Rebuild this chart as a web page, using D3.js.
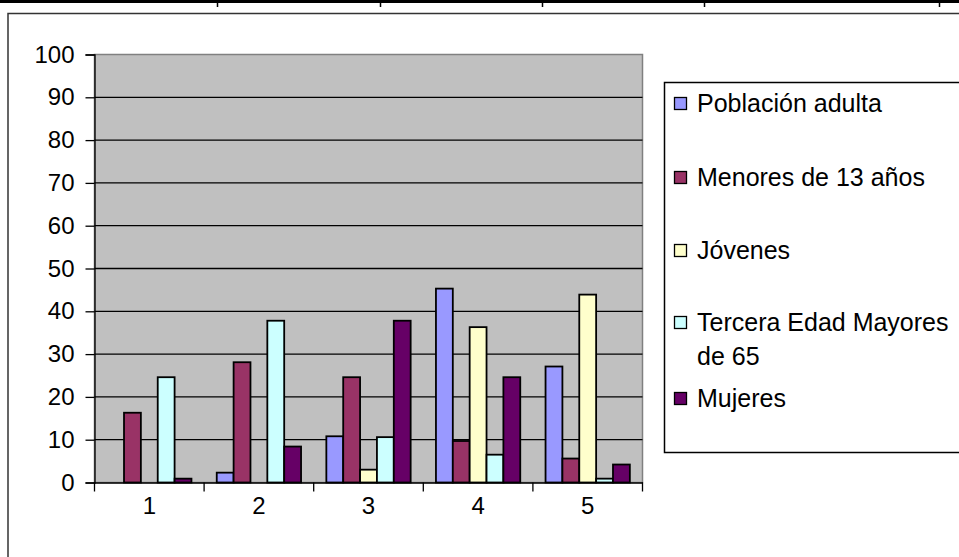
<!DOCTYPE html>
<html>
<head>
<meta charset="utf-8">
<title>Grupos de población</title>
<style>
  body { margin: 0; background: #fff; }
  svg { display: block; font-family: "Liberation Sans", Arial, sans-serif; }
</style>
</head>
<body>
<div class="chart"></div>
<script src="https://d3js.org/d3.v7.min.js"></script>
<script>
var categories = ["1", "2", "3", "4", "5"];
var seriesNames = ["Población adulta", "Menores de 13 años", "Jóvenes", "Tercera Edad Mayores de 65", "Mujeres"];
var legendLines = [["Población adulta"], ["Menores de 13 años"], ["Jóvenes"], ["Tercera Edad Mayores", "de 65"], ["Mujeres"]];
var poblacionAdulta = [0, 2.3, 10.8, 45.3, 27.1];
var menores13 = [16.3, 28.1, 24.6, 9.7, 5.6];
var jovenes = [0, 0, 3.0, 36.3, 43.9];
var terceraEdad = [24.6, 37.8, 10.6, 6.5, 0.9];
var mujeres = [0.9, 8.4, 37.8, 24.6, 4.2];
var yTicks = [0, 10, 20, 30, 40, 50, 60, 70, 80, 90, 100];
var colors = ["#9999ff", "#993366", "#ffffcc", "#ccffff", "#660066"];

var seriesValues = [poblacionAdulta, menores13, jovenes, terceraEdad, mujeres];

var W = 959, H = 557;
var plot = {left: 94.5, right: 642.5, top: 54.5, bottom: 482.5};

var svg = d3.select(".chart").append("svg")
  .attr("width", W)
  .attr("height", H);

// spreadsheet cell borders at the top
svg.append("line")
  .attr("x1", 0).attr("x2", W).attr("y1", 1.5).attr("y2", 1.5)
  .attr("stroke", "#000").attr("stroke-width", 3);
[217, 380, 542, 704, 939].forEach(function(x){
  svg.append("line")
    .attr("x1", x + 0.5).attr("x2", x + 0.5).attr("y1", 0).attr("y2", 7)
    .attr("stroke", "#000").attr("stroke-width", 1.5);
});

// chart frame
svg.append("rect")
  .attr("x", 8).attr("y", 13.5)
  .attr("width", W + 20).attr("height", H + 20)
  .attr("fill", "#fff")
  .attr("stroke", "#333").attr("stroke-width", 1.5);

var x0 = d3.scaleBand().domain(categories).range([plot.left, plot.right]).padding(0);
var x1 = d3.scaleBand().domain(d3.range(seriesNames.length))
  .range([0, x0.bandwidth()]).paddingInner(0).paddingOuter(0.75);
var y = d3.scaleLinear().domain([0, 100]).range([plot.bottom, plot.top]);

// plot area
svg.append("rect")
  .attr("x", plot.left).attr("y", plot.top)
  .attr("width", plot.right - plot.left).attr("height", plot.bottom - plot.top)
  .attr("fill", "#c0c0c0")
  .attr("stroke", "#808080").attr("stroke-width", 1.5);

// gridlines
svg.append("g").selectAll("line")
  .data(yTicks.filter(function(d){ return d > 0 && d < 100; }))
  .enter().append("line")
  .attr("x1", plot.left).attr("x2", plot.right)
  .attr("y1", function(d){ return y(d); }).attr("y2", function(d){ return y(d); })
  .attr("stroke", "#000").attr("stroke-width", 1.3);

// bars
var cat = svg.append("g").selectAll("g")
  .data(categories)
  .enter().append("g")
  .attr("transform", function(d){ return "translate(" + x0(d) + ",0)"; });

cat.selectAll("rect")
  .data(function(d, i){ return seriesValues.map(function(s, j){ return {s: j, v: s[i]}; }); })
  .enter().filter(function(d){ return d.v > 0; }).append("rect")
  .attr("x", function(d){ return x1(d.s); })
  .attr("width", x1.bandwidth())
  .attr("y", function(d){ return y(d.v); })
  .attr("height", function(d){ return y(0) - y(d.v); })
  .attr("fill", function(d){ return colors[d.s]; })
  .attr("stroke", "#000").attr("stroke-width", 1.8);

// y axis
var yAxis = svg.append("g")
  .attr("transform", "translate(" + plot.left + ",0)")
  .call(d3.axisLeft(y).tickValues(yTicks).tickSize(9).tickPadding(11));
yAxis.select(".domain").attr("stroke", "#000").attr("stroke-width", 1.3);
yAxis.selectAll(".tick line").attr("stroke", "#000").attr("stroke-width", 1.3);
yAxis.selectAll("text").attr("font-size", 24).attr("fill", "#000")
  .attr("font-family", "Liberation Sans, Arial, sans-serif");

// x axis
var xAxis = svg.append("g")
  .attr("transform", "translate(0," + plot.bottom + ")")
  .call(d3.axisBottom(x0).tickSize(0).tickPadding(14));
xAxis.select(".domain").attr("stroke", "#000").attr("stroke-width", 1.3);
xAxis.selectAll("text").attr("font-size", 24).attr("fill", "#000")
  .attr("font-family", "Liberation Sans, Arial, sans-serif");
xAxis.selectAll(".sep")
  .data(categories.concat(["end"]))
  .enter().append("line")
  .attr("class", "sep")
  .attr("x1", function(d, i){ return plot.left + i * x0.step(); })
  .attr("x2", function(d, i){ return plot.left + i * x0.step(); })
  .attr("y1", 0).attr("y2", 9)
  .attr("stroke", "#000").attr("stroke-width", 1.3);

// legend
var legend = svg.append("g");
legend.append("rect")
  .attr("x", 664.5).attr("y", 82.5)
  .attr("width", 320).attr("height", 370)
  .attr("fill", "#fff").attr("stroke", "#000").attr("stroke-width", 1.5);

var legendY = [103, 177, 250, 322, 398];
var item = legend.selectAll(".item")
  .data(seriesNames)
  .enter().append("g")
  .attr("class", "item")
  .attr("transform", function(d, i){ return "translate(0," + legendY[i] + ")"; });

item.append("rect")
  .attr("x", 674.5).attr("y", -5.5)
  .attr("width", 12).attr("height", 12)
  .attr("fill", function(d, i){ return colors[i]; })
  .attr("stroke", "#000").attr("stroke-width", 1.3);

item.each(function(d, i){
  var t = d3.select(this).append("text")
    .attr("x", 697).attr("y", 8.5)
    .attr("font-size", 25).attr("fill", "#000");
  legendLines[i].forEach(function(line, k){
    t.append("tspan").attr("x", 697).attr("dy", k === 0 ? 0 : 34).text(line);
  });
});
</script>
</body>
</html>
